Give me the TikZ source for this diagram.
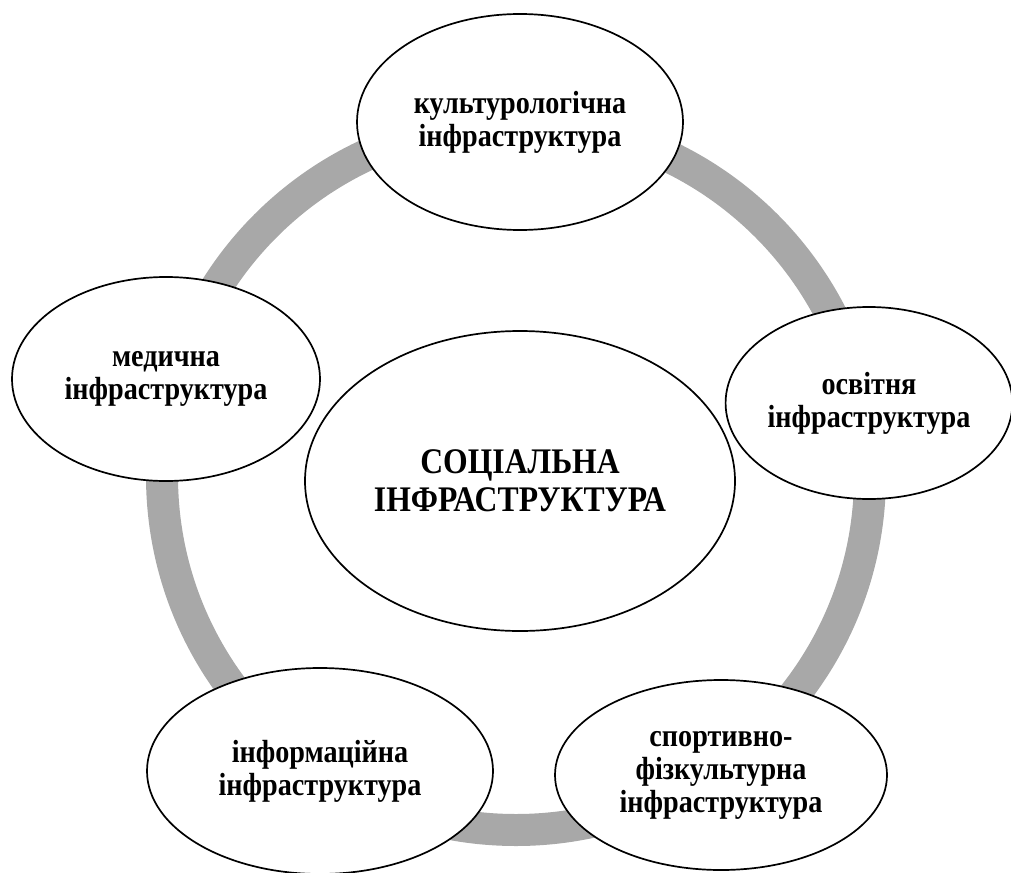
\documentclass[tikz,border=0pt]{standalone}
\usepackage{fontspec}
% slightly condensed serif face
\setmainfont[FakeStretch=0.88]{Liberation Serif}
\usetikzlibrary{shapes.geometric}
\definecolor{ringgray}{RGB}{168,168,168}
\tikzset{
  bubble/.style={ellipse, draw=black, line width=1.7pt, fill=white, inner sep=0pt,
    align=center, font=\bfseries\fontsize{32}{33}\selectfont},
  hub/.style={bubble, font=\bfseries\fontsize{36}{38}\selectfont},
  ring/.style={draw=ringgray, line width=32pt}
}
\begin{document}
\begin{tikzpicture}[x=1pt, y=-1pt]
  \useasboundingbox (0,0) rectangle (1011,872);
  % grey loop behind the bubbles
  \coordinate (o) at (516,476);
  \draw[ring] (o) circle[radius=354];
  % outer bubbles
  \node[bubble, minimum width=326pt, minimum height=216pt] (cult) at (520,122)
    {культурологічна\\інфраструктура};
  \node[bubble, minimum width=308pt, minimum height=204pt] (med) at (166,379)
    {медична\\інфраструктура};
  \node[bubble, minimum width=282pt, minimum height=192pt] (osv) at (869,403)
    {освітня\\інфраструктура};
  \node[bubble, minimum width=346pt, minimum height=206pt] (inf) at (320,771)
    {інформаційна\\інфраструктура};
  \node[bubble, minimum width=332pt, minimum height=190pt] (sport) at (721,775)
    {спортивно-\\фізкультурна\\інфраструктура};
  % central bubble
  \node[hub, minimum width=430pt, minimum height=300pt] (soc) at (520,481)
    {СОЦІАЛЬНА\\ІНФРАСТРУКТУРА};
\end{tikzpicture}
\end{document}
